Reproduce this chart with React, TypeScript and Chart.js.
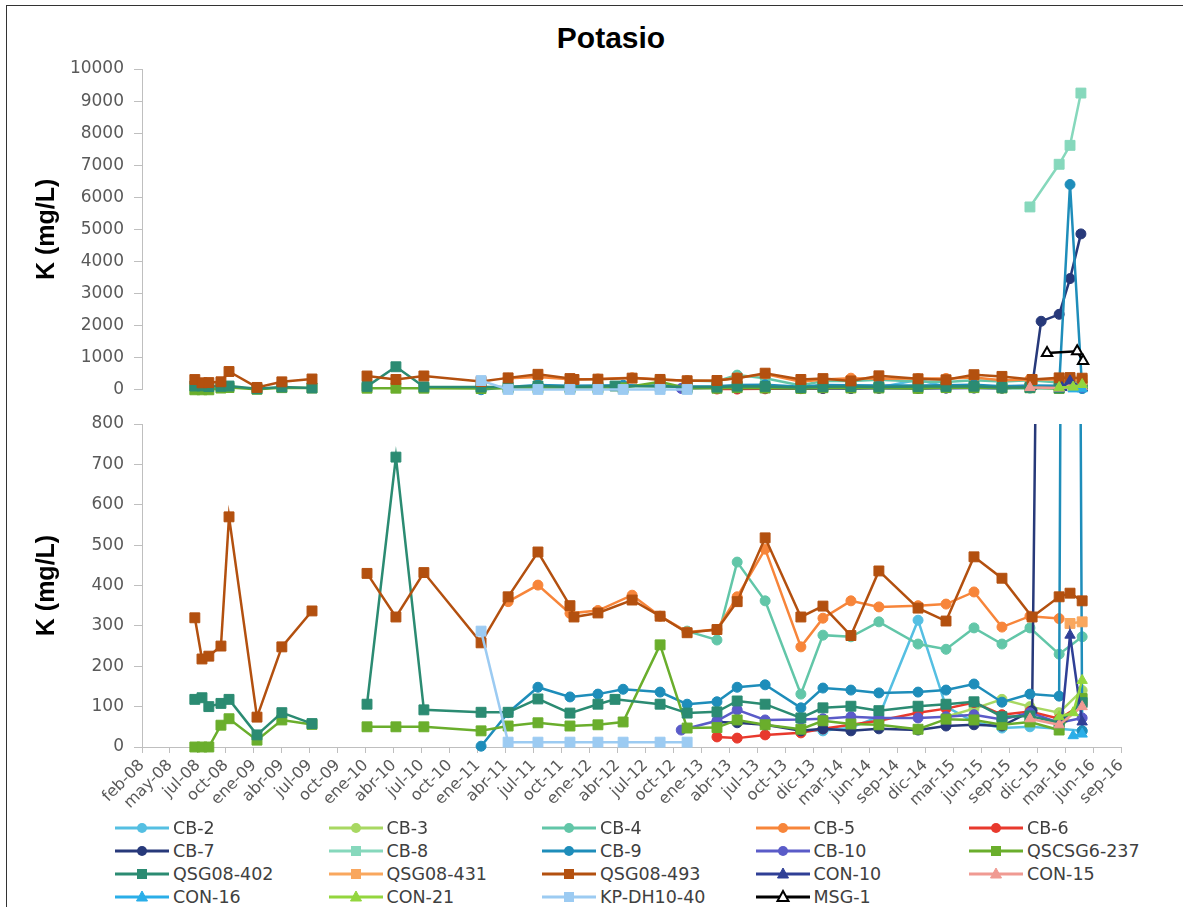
import React, { useEffect, useRef } from "react";
import { Chart, registerables } from "chart.js";

Chart.register(...registerables);

// ---------- axis data ----------
const TICK_LABELS = [
  "feb-08", "may-08", "jul-08", "oct-08", "ene-09", "abr-09", "jul-09", "oct-09",
  "ene-10", "abr-10", "jul-10", "oct-10", "ene-11", "abr-11", "jul-11", "oct-11",
  "ene-12", "abr-12", "jul-12", "oct-12", "ene-13", "abr-13", "jul-13", "oct-13",
  "dic-13", "mar-14", "jun-14", "sep-14", "dic-14", "mar-15", "jun-15", "sep-15",
  "dic-15", "mar-16", "jun-16", "sep-16",
];
const AXIS_START = "2008-02-01";
const TICK_STEP_DAYS = 90;
const TOP_Y_MAX = 10000;
const TOP_Y_STEP = 1000;
const BOTTOM_Y_MAX = 800;
const BOTTOM_Y_STEP = 100;

// ---------- series data: [sample date, K mg/L] ----------
type Pt = [string, number | null];

const CB_2: Pt[] = [
  ["2013-11-21", 42], ["2014-01-31", 40], ["2014-05-01", 48], ["2014-07-30", 75],
  ["2014-12-03", 314], ["2015-03-03", 100], ["2015-06-01", 62], ["2015-08-30", 47],
  ["2015-11-28", 50], ["2016-03-01", 45], ["2016-05-14", 40],
];
const CB_3: Pt[] = [
  ["2015-03-03", 75], ["2015-06-01", 95], ["2015-08-30", 118], ["2015-11-28", 100],
  ["2016-03-01", 85], ["2016-05-14", 140],
];
const CB_4: Pt[] = [
  ["2012-11-20", 287], ["2013-02-24", 265], ["2013-04-30", 458], ["2013-07-29", 362],
  ["2013-11-21", 131], ["2014-01-31", 277], ["2014-05-01", 273], ["2014-07-30", 310],
  ["2014-12-03", 255], ["2015-03-03", 242], ["2015-06-01", 295], ["2015-08-30", 255],
  ["2015-11-28", 295], ["2016-03-01", 230], ["2016-05-14", 273],
];
const CB_5: Pt[] = [
  ["2011-04-24", 360], ["2011-07-29", 401], ["2011-11-09", 331], ["2012-02-07", 338],
  ["2012-05-27", 376], ["2012-08-25", 324], ["2012-11-20", 285], ["2013-02-24", 291],
  ["2013-04-30", 372], ["2013-07-29", 490], ["2013-11-21", 248], ["2014-01-31", 319],
  ["2014-05-01", 362], ["2014-07-30", 347], ["2014-12-03", 350], ["2015-03-03", 354],
  ["2015-06-01", 384], ["2015-08-30", 297], ["2015-11-28", 324], ["2016-03-01", 318],
];
const CB_6: Pt[] = [
  ["2013-02-24", 25], ["2013-04-30", 22], ["2013-07-29", 30], ["2013-11-21", 35],
  ["2014-01-31", 45], ["2014-05-01", 55], ["2014-07-30", 65], ["2014-12-03", 85],
  ["2015-03-03", 95], ["2015-06-01", 110], ["2015-08-30", 80], ["2015-11-28", 88],
  ["2016-03-01", 70], ["2016-05-14", 105],
];
const CB_7: Pt[] = [
  ["2013-02-24", 62], ["2013-04-30", 60], ["2013-07-29", 55], ["2013-11-21", 40],
  ["2014-01-31", 45], ["2014-05-01", 40], ["2014-07-30", 45], ["2014-12-03", 42],
  ["2015-03-03", 52], ["2015-06-01", 55], ["2015-08-30", 52], ["2015-12-05", 90],
  ["2016-01-03", 2136], ["2016-03-01", 2353], ["2016-04-05", 3467], ["2016-05-10", 4860],
];
const CB_8: Pt[] = [
  ["2015-11-28", 5700], ["2016-03-01", 7030], ["2016-04-05", 7620], ["2016-05-10", 9250],
];
const CB_9: Pt[] = [
  ["2011-01-27", 2], ["2011-04-24", 85], ["2011-07-29", 148], ["2011-11-09", 124],
  ["2012-02-07", 131], ["2012-04-28", 143], ["2012-08-25", 136], ["2012-11-20", 106],
  ["2013-02-24", 112], ["2013-04-30", 148], ["2013-07-29", 154], ["2013-11-21", 97],
  ["2014-01-31", 146], ["2014-05-01", 141], ["2014-07-30", 134], ["2014-12-03", 136],
  ["2015-03-03", 141], ["2015-06-01", 156], ["2015-08-30", 111], ["2015-11-28", 131],
  ["2016-03-01", 126], ["2016-04-05", 6400], ["2016-05-14", 40],
];
const CB_10: Pt[] = [
  ["2012-11-01", 42], ["2013-02-24", 65], ["2013-04-30", 92], ["2013-07-29", 67],
  ["2013-11-21", 68], ["2014-01-31", 70], ["2014-05-01", 75], ["2014-07-30", 72],
  ["2014-12-03", 72], ["2015-03-03", 75], ["2015-06-01", 80], ["2015-08-30", 68],
  ["2015-11-28", 85], ["2016-03-01", 60], ["2016-05-14", 72],
];
const QSCSG6_237: Pt[] = [
  ["2008-07-20", 0], ["2008-08-12", 0], ["2008-09-03", 0], ["2008-10-12", 54],
  ["2008-11-07", 70], ["2009-02-05", 17], ["2009-04-26", 67], ["2009-08-01", 56],
  ["2009-10-15", null],
  ["2010-01-25", 50], ["2010-04-28", 50], ["2010-07-27", 50], ["2011-01-27", 40],
  ["2011-04-24", 52], ["2011-07-29", 60], ["2011-11-09", 52], ["2012-02-07", 55],
  ["2012-04-28", 62], ["2012-08-25", 253], ["2012-11-20", 47], ["2013-02-24", 48],
  ["2013-04-30", 67], ["2013-07-29", 55], ["2013-11-21", 44], ["2014-01-31", 65],
  ["2014-05-01", 57], ["2014-07-30", 55], ["2014-12-03", 44], ["2015-03-03", 69],
  ["2015-06-01", 67], ["2015-08-30", 55], ["2015-11-28", 62], ["2016-03-01", 42],
  ["2016-05-14", 120],
];
const QSG08_402: Pt[] = [
  ["2008-07-20", 118], ["2008-08-12", 122], ["2008-09-03", 100], ["2008-10-12", 108],
  ["2008-11-07", 118], ["2009-02-05", 30], ["2009-04-26", 85], ["2009-08-01", 58],
  ["2009-10-15", null],
  ["2010-01-25", 106], ["2010-04-28", 718], ["2010-07-27", 92], ["2011-01-27", 86],
  ["2011-04-24", 86], ["2011-07-29", 119], ["2011-11-09", 84], ["2012-02-07", 106],
  ["2012-04-02", 118], ["2012-08-25", 106], ["2012-11-20", 84], ["2013-02-24", 87],
  ["2013-04-30", 114], ["2013-07-29", 106], ["2013-11-21", 72], ["2014-01-31", 97],
  ["2014-05-01", 101], ["2014-07-30", 90], ["2014-12-03", 101], ["2015-03-03", 106],
  ["2015-06-01", 112], ["2015-08-30", 75], ["2015-11-28", 77], ["2016-03-01", 60],
  ["2016-05-14", 110],
];
const QSG08_431: Pt[] = [["2016-04-05", 306], ["2016-05-14", 310]];
const QSG08_493: Pt[] = [
  ["2008-07-20", 320], ["2008-08-12", 218], ["2008-09-03", 225], ["2008-10-12", 250],
  ["2008-11-07", 570], ["2009-02-05", 74], ["2009-04-26", 248], ["2009-08-01", 337],
  ["2009-10-15", null],
  ["2010-01-25", 430], ["2010-04-28", 322], ["2010-07-27", 432], ["2011-01-27", 258],
  ["2011-04-24", 372], ["2011-07-29", 483], ["2011-11-09", 350], ["2011-11-22", 322],
  ["2012-02-07", 332], ["2012-05-27", 364], ["2012-08-25", 324], ["2012-11-20", 283],
  ["2013-02-24", 291], ["2013-04-30", 360], ["2013-07-29", 518], ["2013-11-21", 322],
  ["2014-01-31", 349], ["2014-05-01", 276], ["2014-07-30", 436], ["2014-12-03", 344],
  ["2015-03-03", 312], ["2015-06-01", 471], ["2015-08-30", 418], ["2015-12-05", 322],
  ["2016-03-01", 372], ["2016-04-05", 381], ["2016-05-14", 362],
];
const CON_10: Pt[] = [["2016-03-10", 70], ["2016-04-05", 277], ["2016-05-14", 62]];
const CON_15: Pt[] = [["2015-11-28", 70], ["2016-03-01", 55], ["2016-05-14", 100]];
const CON_16: Pt[] = [["2016-04-15", 28], ["2016-05-14", 32]];
const CON_21: Pt[] = [["2016-03-01", 75], ["2016-04-15", 85], ["2016-05-14", 165]];
const KP_DH10_40: Pt[] = [
  ["2011-01-27", 287], ["2011-04-24", 12], ["2011-07-29", 12], ["2011-11-09", 12],
  ["2012-02-07", 12], ["2012-04-28", 12], ["2012-08-25", 12], ["2012-11-20", 12],
];
const MSG_1: Pt[] = [["2016-01-22", 1150], ["2016-04-28", 1200], ["2016-05-17", 900]];

const SERIES_NAMES = [
  "CB-2", "CB-3", "CB-4", "CB-5", "CB-6",
  "CB-7", "CB-8", "CB-9", "CB-10", "QSCSG6-237",
  "QSG08-402", "QSG08-431", "QSG08-493", "CON-10", "CON-15",
  "CON-16", "CON-21", "KP-DH10-40", "MSG-1",
];
const SERIES_DATA = [
  CB_2, CB_3, CB_4, CB_5, CB_6,
  CB_7, CB_8, CB_9, CB_10, QSCSG6_237,
  QSG08_402, QSG08_431, QSG08_493, CON_10, CON_15,
  CON_16, CON_21, KP_DH10_40, MSG_1,
];
const SERIES_COLORS = [
  "#55bfe2", "#a8d862", "#62c6a8", "#f7853a", "#e8392d",
  "#27397a", "#86d8bc", "#1e8dba", "#5a5bc8", "#6aae2c",
  "#2b8b72", "#f9a75e", "#b3500f", "#2f3f96", "#f09a92",
  "#2aaee8", "#93d63e", "#9ccbf2", "#000000",
];
const SERIES_SHAPES = [
  "circle", "circle", "circle", "circle", "circle",
  "circle", "rect", "circle", "circle", "rect",
  "rect", "rect", "rect", "triangle", "triangle",
  "triangle", "triangle", "rect", "openTriangle",
];

// ---------- helpers ----------
const FONT = "'Liberation Sans', Arial, sans-serif";
const TICK_FONT = "'DejaVu Sans', sans-serif";
const DAY_MS = 86400000;
const toDays = (d: string) => (Date.parse(d) - Date.parse(AXIS_START)) / DAY_MS;

function buildDatasets(panel: "top" | "bottom") {
  const n = SERIES_NAMES.length;
  return SERIES_NAMES.map((name, i) => {
    const color = SERIES_COLORS[i];
    const shape = SERIES_SHAPES[i];
    const open = shape === "openTriangle";
    const style = open ? "triangle" : shape;
    const radius = style === "rect" ? 7 : style === "triangle" ? 6 : 5;
    return {
      label: name,
      data: SERIES_DATA[i].map(([d, v]) => ({ x: toDays(d), y: v })),
      borderColor: color,
      backgroundColor: color,
      pointBackgroundColor: open ? "#ffffff" : color,
      pointBorderColor: color,
      pointBorderWidth: open ? 2 : 1,
      pointStyle: style,
      pointRadius: radius,
      borderWidth: 2.5,
      tension: 0,
      spanGaps: false,
      order: n - i,
      clip: panel === "top" ? (false as any) : { left: 20, right: 20, top: 0, bottom: 20 },
    };
  });
}

function makeOptions(panel: "top" | "bottom"): any {
  const top = panel === "top";
  const xScale: any = {
    type: "linear",
    display: !top,
    min: 0,
    max: (TICK_LABELS.length - 1) * TICK_STEP_DAYS,
    ticks: {
      stepSize: TICK_STEP_DAYS,
      autoSkip: false,
      maxRotation: 45,
      minRotation: 45,
      padding: 3,
      color: "#595959",
      font: { family: TICK_FONT, size: 16 },
      callback: (v: number) => TICK_LABELS[Math.round(v / TICK_STEP_DAYS)] ?? "",
    },
    grid: { drawOnChartArea: false, drawTicks: true, tickLength: 6, color: "#bfbfbf" },
    border: { display: true, color: "#bfbfbf", width: 1 },
  };
  if (!top) {
    xScale.afterFit = (s: any) => {
      s.height = 73;
    };
  }
  return {
    responsive: false,
    animation: false,
    events: [],
    layout: {
      padding: top
        ? { left: 28, right: 62, top: 69, bottom: 18 }
        : { left: 28, right: 62, top: 24, bottom: 0 },
    },
    plugins: {
      legend: { display: false },
      tooltip: { enabled: false },
      title: { display: false },
    },
    scales: {
      x: xScale,
      y: {
        type: "linear",
        min: 0,
        max: top ? TOP_Y_MAX : BOTTOM_Y_MAX,
        ticks: {
          stepSize: top ? TOP_Y_STEP : BOTTOM_Y_STEP,
          padding: 10,
          color: "#595959",
          font: { family: TICK_FONT, size: 17 },
          callback: (v: number) => String(v),
        },
        grid: { drawOnChartArea: false, drawTicks: true, tickLength: 8, color: "#bfbfbf" },
        border: { display: true, color: "#bfbfbf", width: 1 },
        title: {
          display: true,
          text: "K (mg/L)",
          color: "#000000",
          font: { family: FONT, size: 25, weight: "bold" },
          padding: { top: 4, bottom: 4 },
        },
        afterFit: (s: any) => {
          s.width = 114;
        },
      },
    },
  };
}

function Panel({ panel, top, height }: { panel: "top" | "bottom"; top: number; height: number }) {
  const ref = useRef<HTMLCanvasElement | null>(null);
  useEffect(() => {
    if (!ref.current) return;
    const chart = new Chart(ref.current, {
      type: "line",
      data: { datasets: buildDatasets(panel) as any },
      options: makeOptions(panel),
    });
    return () => chart.destroy();
  }, [panel]);
  return (
    <canvas
      ref={ref}
      width={1183}
      height={height}
      style={{ position: "absolute", left: 0, top, width: 1183, height }}
    />
  );
}

function LegendMarker({ color, shape }: { color: string; shape: string }) {
  const cx = 27;
  const cy = 8;
  let mark: React.ReactNode = null;
  if (shape === "circle") mark = <circle cx={cx} cy={cy} r={5} fill={color} />;
  else if (shape === "rect") mark = <rect x={cx - 5} y={cy - 5} width={10} height={10} fill={color} />;
  else {
    const open = shape === "openTriangle";
    mark = (
      <polygon
        points={`${cx},${cy - 6} ${cx + 5.5},${cy + 4} ${cx - 5.5},${cy + 4}`}
        fill={open ? "#fff" : color}
        stroke={color}
        strokeWidth={open ? 2 : 1}
      />
    );
  }
  return (
    <svg width={54} height={16} style={{ display: "block" }}>
      <line x1={0} y1={cy} x2={54} y2={cy} stroke={color} strokeWidth={3} />
      {mark}
    </svg>
  );
}

export default function App() {
  const COLS = 5;
  const COL_X0 = 173;
  const COL_STEP = 213.5;
  const ROW_Y0 = 828;
  const ROW_STEP = 23;
  return (
    <div
      style={{
        position: "absolute",
        left: 0,
        top: 0,
        width: 1183,
        height: 907,
        overflow: "hidden",
        background: "#ffffff",
        fontFamily: FONT,
      }}
    >
      <div
        style={{
          position: "absolute",
          left: 6,
          top: 5,
          width: 1300,
          height: 1000,
          border: "1.5px solid #333",
          boxSizing: "border-box",
        }}
      />
      <div
        style={{
          position: "absolute",
          left: 0,
          top: 20,
          width: 1222,
          textAlign: "center",
          fontSize: 30,
          lineHeight: "36px",
          fontWeight: "bold",
          color: "#000",
        }}
      >
        Potasio
      </div>
      <Panel panel="bottom" top={400} height={420} />
      <Panel panel="top" top={0} height={410} />
      {SERIES_NAMES.map((name, i) => {
        const col = i % COLS;
        const row = Math.floor(i / COLS);
        const x = COL_X0 + col * COL_STEP;
        const y = ROW_Y0 + row * ROW_STEP;
        return (
          <React.Fragment key={name}>
            <div style={{ position: "absolute", left: x - 58, top: y - 8 }}>
              <LegendMarker color={SERIES_COLORS[i]} shape={SERIES_SHAPES[i]} />
            </div>
            <div
              style={{
                position: "absolute",
                left: x,
                top: y - 11,
                fontFamily: TICK_FONT,
                fontSize: 17.5,
                lineHeight: "22px",
                color: "#404040",
                whiteSpace: "nowrap",
              }}
            >
              {name}
            </div>
          </React.Fragment>
        );
      })}
    </div>
  );
}
